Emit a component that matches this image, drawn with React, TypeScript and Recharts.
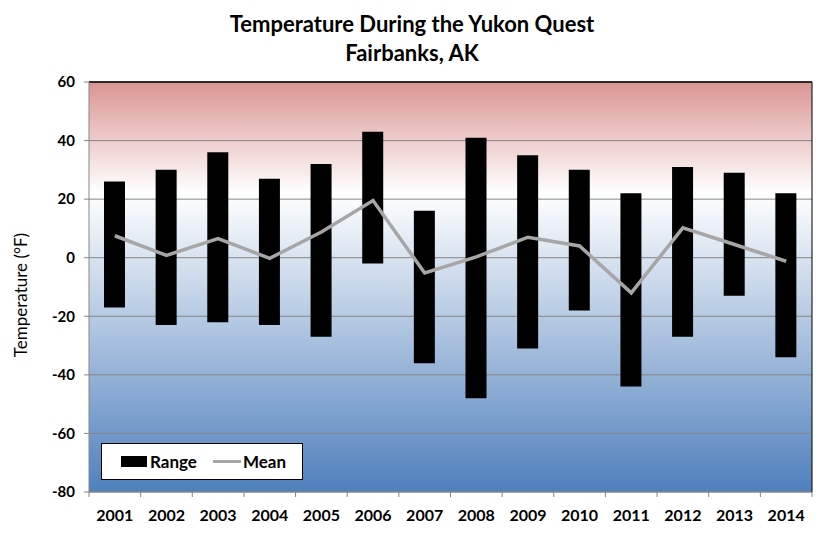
import {
  ComposedChart,
  Bar,
  Line,
  XAxis,
  YAxis,
  CartesianGrid,
  ReferenceLine,
} from "recharts";

const years = ["2001", "2002", "2003", "2004", "2005", "2006", "2007", "2008", "2009", "2010", "2011", "2012", "2013", "2014"];
const lows = [-17, -23, -22, -23, -27, -2, -36, -48, -31, -18, -44, -27, -13, -34];
const highs = [26, 30, 36, 27, 32, 43, 16, 41, 35, 30, 22, 31, 29, 22];
const means = [7.5, 0.8, 6.5, -0.2, 8.8, 19.5, -5.2, 0.3, 7, 4, -12, 10.2, 4.5, -1.2];
const yTicks = [-80, -60, -40, -20, 0, 20, 40, 60];

const data = years.map((year, i) => ({
  year,
  range: [lows[i], highs[i]],
  mean: means[i],
}));

const font = "Lato, 'Open Sans', sans-serif";
const tickStyle = { fill: "#000", fontSize: 15, fontWeight: 700, fontFamily: font };

// category label plus tick marks on the category boundaries (Excel style)
const YearTick = (props: any) => {
  const { x, y, payload, index, width, visibleTicksCount } = props;
  const half = width / visibleTicksCount / 2;
  return (
    <g>
      <line x1={x - half} x2={x - half} y1={y} y2={y + 5} stroke="#868686" />
      {index === visibleTicksCount - 1 && (
        <line x1={x + half} x2={x + half} y1={y} y2={y + 5} stroke="#868686" />
      )}
      <text x={x} y={y + 18} dy="0.71em" textAnchor="middle" {...tickStyle} fontSize={16}>
        {payload.value}
      </text>
    </g>
  );
};

export default function App() {
  return (
    <div style={{ position: "relative", width: 824, height: 534, fontFamily: font, background: "#fff" }}>
      <style>{`body{margin:0}`}</style>
      <ComposedChart width={824} height={534} data={data} margin={{ top: 81, right: 11, bottom: 0, left: 0 }}>
        <defs>
          <linearGradient id="bg" x1="0" y1="0" x2="0" y2="1">
            <stop offset="0%" stopColor="#DA9593" />
            <stop offset="27%" stopColor="#FFFFFF" />
            <stop offset="100%" stopColor="#4F80BD" />
          </linearGradient>
        </defs>
        <CartesianGrid vertical={false} stroke="#868686" fill="url(#bg)" fillOpacity={1} />
        <XAxis
          dataKey="year"
          height={42}
          stroke="#868686"
          tickLine={false}
          tickSize={0}
          tickMargin={0}
          interval={0}
          tick={<YearTick />}
        />
        <XAxis xAxisId="top" dataKey="year" orientation="top" height={1} axisLine={{ stroke: "#000" }} tick={false} tickLine={false} />
        <YAxis
          domain={[-80, 60]}
          ticks={yTicks}
          width={89}
          stroke="#868686"
          tickSize={5}
          tickMargin={9}
          tick={tickStyle}
        />
        <YAxis yAxisId="right" orientation="right" domain={[-80, 60]} width={1} axisLine={{ stroke: "#000" }} tick={false} tickLine={false} />
        <ReferenceLine y={60} stroke="#000" />
        <Bar dataKey="range" fill="#000" barSize={21} isAnimationActive={false} />
        <Line dataKey="mean" type="linear" stroke="#A6A6A6" strokeWidth={3.5} dot={false} isAnimationActive={false} />
      </ComposedChart>

      <div style={{ position: "absolute", left: 0, width: 824, top: 9, textAlign: "center", fontWeight: 700, fontSize: 22, lineHeight: "29px" }}>
        <div>Temperature During the Yukon Quest</div>
        <div>Fairbanks, AK</div>
      </div>

      <div
        style={{
          position: "absolute",
          left: 20,
          top: 295,
          transform: "translate(-50%, -50%) rotate(-90deg)",
          fontSize: 17,
          whiteSpace: "nowrap",
        }}
      >
        Temperature (°F)
      </div>

      <div
        style={{
          position: "absolute",
          left: 101,
          top: 443,
          width: 200,
          height: 35,
          border: "1px solid #000",
          background: "#fff",
          display: "flex",
          alignItems: "center",
          fontSize: 17,
          fontWeight: 700,
        }}
      >
        <span style={{ display: "inline-block", width: 26, height: 11, background: "#000", marginLeft: 19, marginRight: 3 }} />
        <span>Range</span>
        <span style={{ display: "inline-block", width: 28, height: 3, background: "#A6A6A6", marginLeft: 16, marginRight: 2 }} />
        <span>Mean</span>
      </div>
    </div>
  );
}
